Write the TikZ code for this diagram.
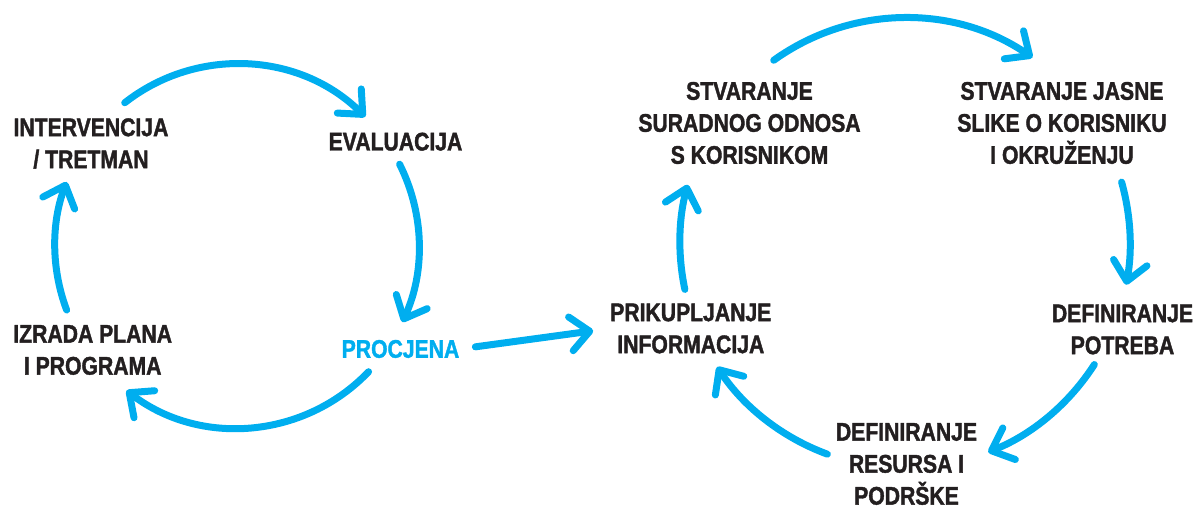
\documentclass[tikz,border=0pt]{standalone}
\usepackage{fontspec}
\setmainfont{Liberation Sans}[FakeStretch=0.83, BoldFeatures={FakeBold=1.5}]
\usetikzlibrary{arrows.meta}
\definecolor{flowblue}{HTML}{00AEEF}
\definecolor{labeltext}{HTML}{231F20}
\begin{document}
\begin{tikzpicture}[x=1pt,y=1pt,
  lbl/.style={align=center, inner sep=0pt, text=labeltext,
    font=\bfseries\fontsize{25.5}{32}\selectfont},
  cyclearrow/.style={draw=flowblue, line width=7pt, line cap=round,
    -{Straight Barb[length=19pt,width=34pt,line cap=round,line join=round]}}]
\useasboundingbox (0,0) rectangle (1198,508);
% circle centres
\coordinate (cL) at (237,262);
\coordinate (cR) at (905,265);
% left cycle labels
\node[lbl] (interv) at (91,364.5) {INTERVENCIJA\\/ TRETMAN};
\node[lbl] (eval) at (395.5,366.3) {EVALUACIJA};
\node[lbl] (izrada) at (92.7,158) {IZRADA PLANA\\I PROGRAMA};
\node[lbl, text=flowblue] (procj) at (400.5,159) {PROCJENA};
% right cycle labels
\node[lbl] (stvar) at (749.5,385) {STVARANJE\\SURADNOG ODNOSA\\S KORISNIKOM};
\node[lbl] (slika) at (1062,385) {STVARANJE JASNE\\SLIKE O KORISNIKU\\I OKRUŽENJU};
\node[lbl] (prik) at (690.8,179.5) {PRIKUPLJANJE\\INFORMACIJA};
\node[lbl] (potreba) at (1122.5,178.5) {DEFINIRANJE\\POTREBA};
\node[lbl] (resursi) at (906.5,44) {DEFINIRANJE\\RESURSA I\\PODRŠKE};
% left cycle arrows (clockwise)
\draw[cyclearrow] (cL) ++(128.1:182) arc[start angle=128.1, end angle=45.2, radius=182];
\draw[cyclearrow] (cL) ++(26.7:182) arc[start angle=26.7, end angle=-24.7, radius=182];
\draw[cyclearrow] (cL) ++(-43.7:182) arc[start angle=-43.7, end angle=-127.4, radius=182];
\draw[cyclearrow] (cL) ++(200.6:182) arc[start angle=200.6, end angle=159.4, radius=182];
% link between cycles
\draw[cyclearrow, shorten <=16pt, shorten >=17pt] (procj.east) -- (prik.west);
% right cycle arrows (clockwise)
\draw[cyclearrow] (cR) ++(125.7:225) arc[start angle=125.7, end angle=55.5, radius=225];
\draw[cyclearrow] (cR) ++(15.7:225) arc[start angle=15.7, end angle=-10.7, radius=225];
\draw[cyclearrow] (cR) ++(-32.7:225) arc[start angle=-32.7, end angle=-68.3, radius=225];
\draw[cyclearrow] (cR) ++(249.8:225) arc[start angle=249.8, end angle=213.4, radius=225];
\draw[cyclearrow] (cR) ++(191.9:225) arc[start angle=191.9, end angle=165, radius=225];
\end{tikzpicture}
\end{document}
